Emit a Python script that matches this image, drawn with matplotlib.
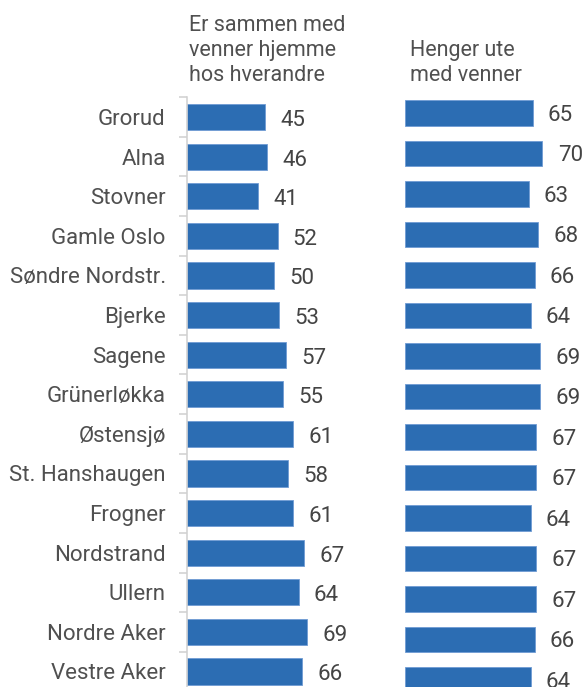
import matplotlib
matplotlib.use("Agg")
import matplotlib.pyplot as plt

districts = ["Grorud", "Alna", "Stovner", "Gamle Oslo", "Søndre Nordstr.", "Bjerke",
             "Sagene", "Grünerløkka", "Østensjø", "St. Hanshaugen", "Frogner",
             "Nordstrand", "Ullern", "Nordre Aker", "Vestre Aker"]
hjemme = [45, 46, 41, 52, 50, 53, 57, 55, 61, 58, 61, 67, 64, 69, 66]
ute = [65, 70, 63, 68, 66, 64, 69, 69, 67, 67, 64, 67, 67, 66, 64]
title_left = "Er sammen med\nvenner hjemme\nhos hverandre"
title_right = "Henger ute\nmed venner"

BLUE = "#2c6db3"
EDGE = "#6f9bd4"
TXT = "#505050"
NUM = "#444444"
plt.rcParams["font.family"] = ["Roboto", "DejaVu Sans"]

W, H = 584, 687
fig = plt.figure(figsize=(W / 100, H / 100), dpi=100)


def px_axes(left, top, width, height):
    return fig.add_axes([left / W, (H - top - height) / H, width / W, height / H])


n = len(districts)
pos = list(range(n))

# left panel
ax1 = px_axes(186.5, 97.3, 175, 39.6 * n)
ax1.barh(pos, hjemme, height=0.66, color=BLUE, edgecolor=EDGE, linewidth=0.6)
ax1.set_xlim(0, 100)
ax1.set_ylim(n - 0.5, -0.5)
ax1.set_yticks(pos)
ax1.set_yticklabels(districts, fontsize=16, color=TXT)
ax1.set_yticks([p - 0.5 for p in pos] + [n - 0.5], minor=True)
ax1.tick_params(axis="y", which="major", length=0, pad=15)
ax1.tick_params(axis="y", which="minor", length=6, width=1.1, color="#d0d0d0")
ax1.set_xticks([])
for s in ["top", "right", "bottom"]:
    ax1.spines[s].set_visible(False)
ax1.spines["left"].set_color("#d0d0d0")
ax1.spines["left"].set_linewidth(1.1)
for p, v in zip(pos, hjemme):
    ax1.annotate(str(v), (v, p), xytext=(11, -2.5), textcoords="offset points",
                 ha="left", va="center", fontsize=16, color=NUM)

# right panel
ax2 = px_axes(404.5, 92.75, 197, 40.5 * n)
ax2.barh(pos, ute, height=0.64, color=BLUE, edgecolor=EDGE, linewidth=0.6)
ax2.set_xlim(0, 100)
ax2.set_ylim(n - 0.5, -0.5)
ax2.axis("off")
for p, v in zip(pos, ute):
    ax2.annotate(str(v), (v, p), xytext=(11, -1.5), textcoords="offset points",
                 ha="left", va="center", fontsize=16, color=NUM)

# panel titles, one line at a time, bottom lines share a baseline
for title, x in [(title_left, 189), (title_right, 410)]:
    lines = title.split("\n")
    for i, line in enumerate(lines):
        base = 81 - 25 * (len(lines) - 1 - i)
        fig.text(x / W, 1 - base / H, line, fontsize=15.5, color=TXT,
                 ha="left", va="baseline")

fig.savefig("out.png", dpi=100)
